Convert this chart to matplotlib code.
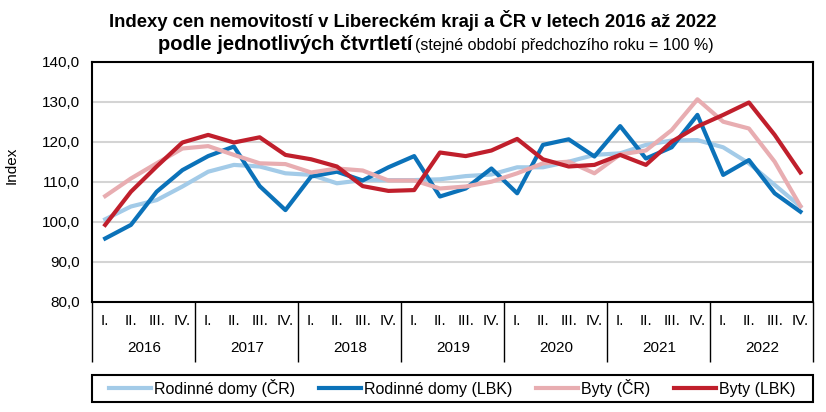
import numpy as np
import matplotlib.pyplot as plt
from matplotlib.patches import Rectangle
from matplotlib.transforms import blended_transform_factory

plt.rcParams['font.family'] = ['Liberation Sans', 'DejaVu Sans']

W, H = 826, 412

# Data: year-on-year indices by quarter, 2016 Q1 .. 2022 Q4
years = ['2016', '2017', '2018', '2019', '2020', '2021', '2022']
quarters = ['I.', 'II.', 'III.', 'IV.']

rd_cr = [100.6, 103.8, 105.4, 108.8, 112.5, 114.2, 113.8, 112.1,
         111.7, 109.6, 110.4, 110.4, 110.4, 110.6, 111.4, 111.8,
         113.6, 113.6, 115.0, 116.7, 117.1, 119.2, 120.3, 120.4,
         118.6, 114.6, 109.2, 103.8]
rd_lbk = [95.8, 99.2, 107.5, 112.9, 116.4, 118.8, 108.9, 102.9,
          111.3, 112.5, 110.3, 113.6, 116.4, 106.3, 108.3, 113.3,
          107.1, 119.2, 120.6, 116.3, 123.9, 115.8, 118.6, 126.7,
          111.7, 115.4, 107.1, 102.5]
byty_cr = [106.4, 110.8, 114.6, 118.3, 118.9, 116.7, 114.6, 114.4,
           112.3, 113.3, 112.8, 110.3, 110.3, 108.3, 108.8, 110.0,
           112.1, 114.6, 115.0, 112.1, 116.8, 117.8, 122.9, 130.6,
           125.0, 123.3, 115.0, 103.9]
byty_lbk = [99.2, 107.5, 113.8, 119.8, 121.7, 119.8, 121.1, 116.7,
            115.6, 113.8, 108.9, 107.7, 107.9, 117.3, 116.4, 117.8,
            120.7, 115.6, 113.8, 114.2, 116.7, 114.2, 120.0, 123.8,
            126.7, 129.8, 121.7, 112.3]

series = [
    ('Rodinné domy (ČR)', rd_cr, '#a3cbe8'),
    ('Rodinné domy (LBK)', rd_lbk, '#0b72b9'),
    ('Byty (ČR)', byty_cr, '#e8adb1'),
    ('Byty (LBK)', byty_lbk, '#c01f2c'),
]

fig = plt.figure(figsize=(W / 100, H / 100), dpi=100)
ax = fig.add_axes([92.3 / W, 1 - 301.7 / H, 721 / W, 240 / H])

x = np.arange(len(rd_cr)) + 0.5
for label, vals, color in series:
    ax.plot(x, vals, color=color, lw=3.0, label=label)

ax.set_xlim(0, len(rd_cr))
ax.set_ylim(80, 140)
ax.set_yticks(np.arange(80, 141, 10))
ax.set_yticklabels([f'{v:.1f}'.replace('.', ',') for v in range(80, 141, 10)], fontsize=11)
ax.yaxis.grid(True, color='#d4d4d4', lw=1.5)
ax.set_axisbelow(True)
ax.tick_params(axis='y', length=0, pad=9)
for s in ax.spines.values():
    s.set_linewidth(1.5)
    s.set_color('black')

fig.text(12 / W, 1 - 165 / H, 'Index', rotation=90, ha='center', va='center', fontsize=11)

# year separators below the axis
ax.set_xticks(np.arange(0, len(rd_cr) + 1, 4))
ax.set_xticklabels([])
ax.tick_params(axis='x', length=43, width=1, direction='out', color='black')

trans = blended_transform_factory(ax.transData, fig.transFigure)
for yi, yr in enumerate(years):
    for qi, q in enumerate(quarters):
        ax.text(yi * 4 + qi + 0.5, 1 - 321 / H, q, transform=trans,
                ha='center', va='center', fontsize=11)
    ax.text(yi * 4 + 2, 1 - 348 / H, yr, transform=trans,
            ha='center', va='center', fontsize=11)

# title, two lines
fig.text(413 / W, 1 - 27 / H,
         'Indexy cen nemovitostí v Libereckém kraji a ČR v letech 2016 až 2022',
         ha='center', va='baseline', fontsize=13.3, fontweight='bold')
fig.text(412 / W, 1 - 50 / H, 'podle jednotlivých čtvrtletí', ha='right',
         va='baseline', fontsize=14.5, fontweight='bold')
fig.text(415 / W, 1 - 50 / H, '(stejné období předchozího roku = 100 %)',
         ha='left', va='baseline', fontsize=11.5)

# legend box
fig.add_artist(Rectangle((92 / W, 1 - 401.5 / H), 721 / W, 27 / H,
                         transform=fig.transFigure, fill=False,
                         edgecolor='black', lw=1.5))
fig.legend(loc='center', bbox_to_anchor=(452.5 / W, 1 - 388 / H),
           ncol=4, frameon=False, fontsize=11.5, handlelength=2.6,
           handletextpad=0.2, columnspacing=1.5, borderpad=0, borderaxespad=0)

fig.savefig('out.png', dpi=100)
